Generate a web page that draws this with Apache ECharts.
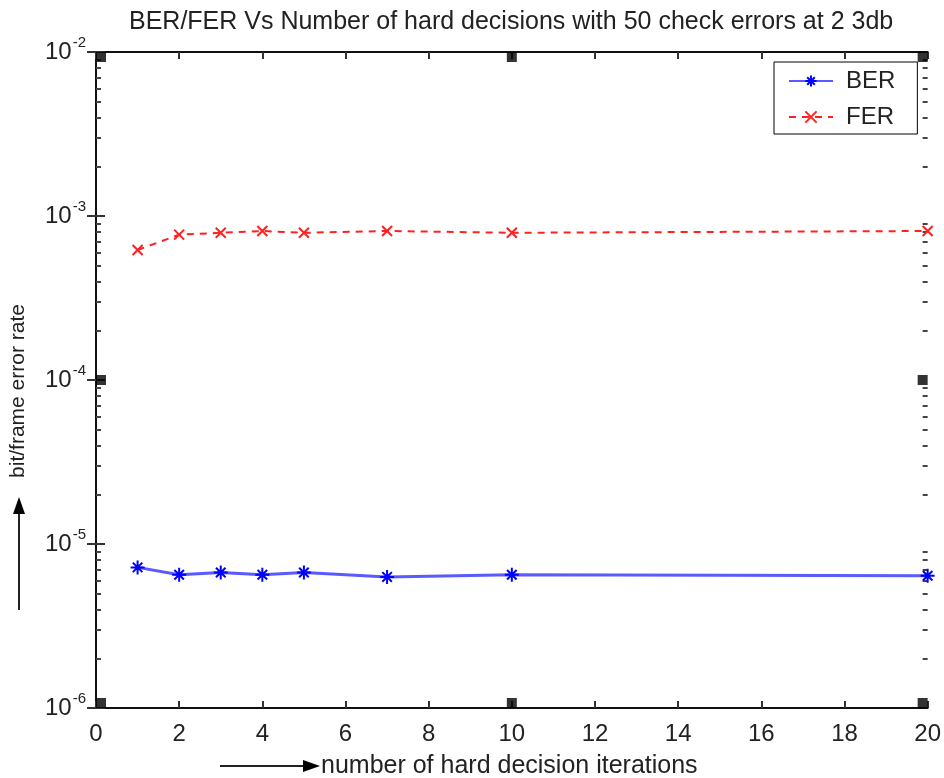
<!DOCTYPE html>
<html><head><meta charset="utf-8">
<script src="https://cdn.jsdelivr.net/npm/echarts@6/dist/echarts.min.js"></script>
<style>html,body{margin:0;padding:0;background:#fff}#c{width:944px;height:778px}</style>
</head><body><div id="c"></div>
<script>
const iterations = [1, 2, 3, 4, 5, 7, 10, 20];
const berValues = [7.2e-6, 6.5e-6, 6.7e-6, 6.5e-6, 6.7e-6, 6.3e-6, 6.5e-6, 6.4e-6];
const ferValues = [6.2e-4, 7.7e-4, 7.9e-4, 8.1e-4, 7.9e-4, 8.1e-4, 7.9e-4, 8.1e-4];
const xTicks = [0, 2, 4, 6, 8, 10, 12, 14, 16, 18, 20];
const yDecades = [1e-6, 1e-5, 1e-4, 1e-3, 1e-2];
const yMinor = [];
for (let e = -6; e < -2; e++) for (let m = 2; m <= 9; m++) yMinor.push(+(m * Math.pow(10, e)).toPrecision(3));
const cornerMarks = [[0,1e-2,[5,5]],[10,1e-2,[0,5]],[20,1e-2,[-5,5]],[0,1e-4,[5,0]],[20,1e-4,[-5,0]],[0,1e-6,[5,-5]],[10,1e-6,[0,-5]],[20,1e-6,[-5,-5]]];

const FONT = '"Liberation Sans", Arial, sans-serif';
const TXT = '#222';
const chart = echarts.init(document.getElementById('c'), null, {renderer: 'canvas'});
const star = 'path://M5,0L5,10M0,5L10,5M1.6,1.6L8.4,8.4M1.6,8.4L8.4,1.6';
const cross = 'path://M0,0L10,10M0,10L10,0';
const logAxisBase = {type: 'log', logBase: 10, min: 1e-6, max: 1e-2, splitLine: {show: false}};
chart.setOption({
  animation: false,
  backgroundColor: '#fff',
  title: {text: 'BER/FER Vs Number of hard decisions with 50 check errors at 2 3db', left: 124, top: 5,
    textStyle: {fontFamily: FONT, fontSize: 25, fontWeight: 'normal', color: TXT}},
  grid: {left: 96, right: 13, top: 52, bottom: 70, containLabel: false},
  legend: {orient: 'vertical', left: 774, top: 62, width: 144, padding: [7, 22, 5, 14], itemGap: 12,
    itemWidth: 44, itemHeight: 14, borderColor: '#000', borderWidth: 1, backgroundColor: '#fff',
    textStyle: {fontFamily: FONT, fontSize: 24, color: TXT, padding: [0, 0, 0, 8]},
    data: ['BER', 'FER']},
  xAxis: [
    {type: 'value', min: 0, max: 20, interval: 2, position: 'bottom', splitLine: {show: false},
      axisLine: {lineStyle: {color: '#111', width: 2}}, axisTick: {inside: true, length: 7, lineStyle: {color: '#333', width: 2}},
      axisLabel: {margin: 14, fontFamily: FONT, fontSize: 24, color: TXT, customValues: xTicks}},
    {type: 'value', min: 0, max: 20, interval: 2, position: 'top', splitLine: {show: false},
      axisLine: {lineStyle: {color: '#111', width: 2}}, axisTick: {inside: true, length: 7, lineStyle: {color: '#333', width: 2}},
      axisLabel: {show: false}}
  ],
  yAxis: [
    Object.assign({}, logAxisBase, {position: 'left',
      axisLine: {show: true, lineStyle: {color: '#111', width: 2}},
      axisTick: {show: true, inside: true, length: 9, customValues: yDecades, lineStyle: {color: '#333', width: 2}},
      axisLabel: {margin: 10, customValues: yDecades, formatter: v => '{b|10}{s|' + Math.round(Math.log10(v)) + '}',
        rich: {b: {fontFamily: FONT, fontSize: 24, color: TXT}, s: {fontFamily: FONT, fontSize: 15, color: TXT, verticalAlign: 'bottom', padding: [0, 0, 18, 1]}}}}),
    Object.assign({}, logAxisBase, {position: 'right',
      axisLine: {show: true, lineStyle: {color: '#111', width: 2}},
      axisTick: {show: true, inside: true, length: 9, customValues: yDecades, lineStyle: {color: '#333', width: 2}},
      axisLabel: {show: false}}),
    Object.assign({}, logAxisBase, {position: 'left', axisLine: {show: false},
      axisTick: {show: true, inside: true, length: 5, customValues: yMinor, lineStyle: {color: '#444', width: 2}},
      axisLabel: {show: false}}),
    Object.assign({}, logAxisBase, {position: 'right', axisLine: {show: false},
      axisTick: {show: true, inside: true, length: 5, customValues: yMinor, lineStyle: {color: '#444', width: 2}},
      axisLabel: {show: false}})
  ],
  series: [
    {name: 'BER', type: 'line', data: iterations.map((x, i) => [x, berValues[i]]), color: '#5a5aff',
      lineStyle: {color: '#5a5aff', width: 3}, symbol: star, symbolSize: 14, showAllSymbol: true,
      itemStyle: {color: '#0000ff', borderColor: '#0000ff', borderWidth: 2}, z: 3},
    {name: 'FER', type: 'line', data: iterations.map((x, i) => [x, ferValues[i]]), color: '#ff2020',
      lineStyle: {color: '#ff2020', width: 2, type: [7, 6]}, symbol: cross, symbolSize: 10, showAllSymbol: true,
      itemStyle: {color: '#ff2020', borderColor: '#ff2020', borderWidth: 2}, z: 3},
    {name: 'marks', type: 'scatter', symbol: 'rect', symbolSize: 10, silent: true, z: 4,
      itemStyle: {color: '#000'},
      data: cornerMarks.map(m => ({value: [m[0], m[1]], symbolOffset: m[2]}))}
  ],
  graphic: [
    {type: 'text', x: 18, y: 391, rotation: Math.PI / 2,
      style: {text: 'bit/frame error rate', font: '21px ' + FONT, fill: TXT, textAlign: 'center', textVerticalAlign: 'middle'}},
    {type: 'line', shape: {x1: 19, y1: 610, x2: 19, y2: 510}, style: {stroke: '#222', lineWidth: 2}},
    {type: 'polygon', shape: {points: [[19, 497], [13, 514], [25, 514]]}, style: {fill: '#000'}},
    {type: 'line', shape: {x1: 220, y1: 766, x2: 305, y2: 766}, style: {stroke: '#222', lineWidth: 2}},
    {type: 'polygon', shape: {points: [[320, 766], [303, 760], [303, 772]]}, style: {fill: '#000'}},
    {type: 'text', x: 321, y: 766,
      style: {text: 'number of hard decision iterations', font: '25px ' + FONT, fill: TXT, textAlign: 'left', textVerticalAlign: 'middle'}}
  ]
});
</script></body></html>
